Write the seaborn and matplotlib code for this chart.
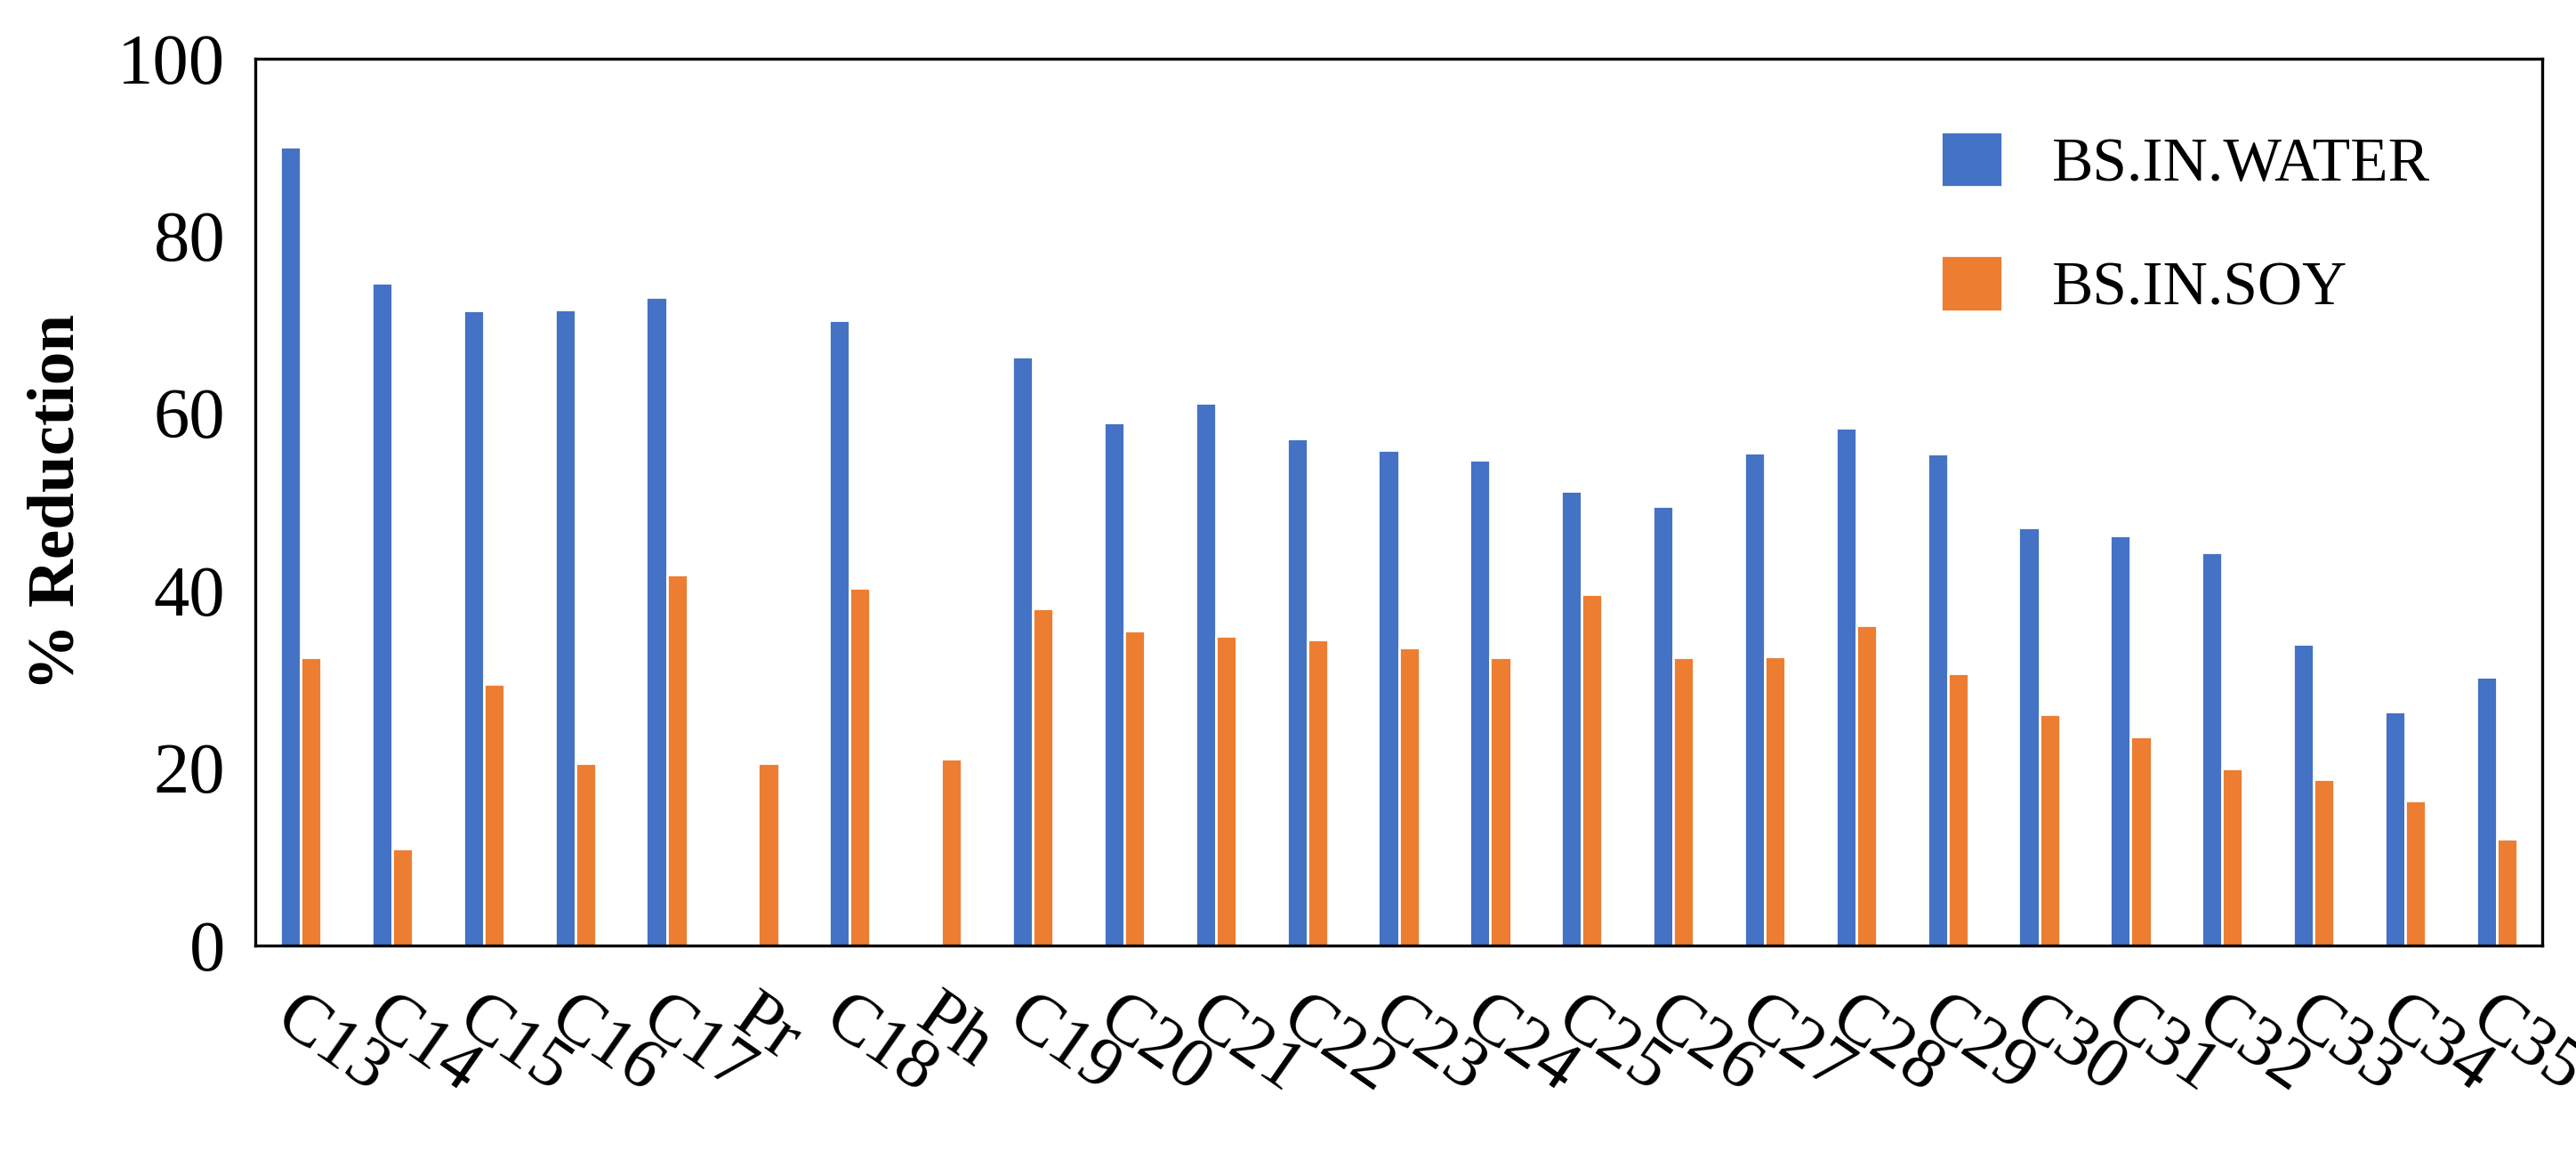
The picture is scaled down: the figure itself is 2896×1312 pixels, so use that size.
import pandas as pd
import matplotlib.pyplot as plt
import seaborn as sns

categories = ["C13", "C14", "C15", "C16", "C17", "Pr", "C18", "Ph", "C19", "C20",
              "C21", "C22", "C23", "C24", "C25", "C26", "C27", "C28", "C29", "C30",
              "C31", "C32", "C33", "C34", "C35"]
water = [90.0, 74.7, 71.6, 71.7, 73.1, 0, 70.5, 0, 66.4, 58.9,
         61.1, 57.1, 55.8, 54.7, 51.2, 49.5, 55.5, 58.3, 55.4, 47.1,
         46.2, 44.3, 34.0, 26.3, 30.3]
soy = [32.5, 10.9, 29.5, 20.5, 41.8, 20.5, 40.3, 21.0, 38.0, 35.5,
       34.9, 34.5, 33.6, 32.5, 39.6, 32.5, 32.6, 36.1, 30.7, 26.0,
       23.5, 19.9, 18.7, 16.3, 12.0]

df = pd.DataFrame({
    "cat": categories * 2,
    "val": water + soy,
    "series": ["BS.IN.WATER"] * len(categories) + ["BS.IN.SOY"] * len(categories),
})

sns.set_style("white")
plt.rcParams["font.family"] = ["Liberation Serif", "DejaVu Serif"]
plt.rcParams["text.color"] = "black"
plt.rcParams["xtick.color"] = "black"
plt.rcParams["ytick.color"] = "black"
plt.rcParams["axes.labelcolor"] = "black"

fig = plt.figure(figsize=(14.48, 6.56), dpi=200)
ax = fig.add_axes([0.099, 0.19, 0.888, 0.76])
sns.barplot(data=df, x="cat", y="val", hue="series", ax=ax,
            palette=["#4472C4", "#ED7D31"], width=0.45, saturation=1)

ax.set_ylim(0, 100)
ax.set_yticks(range(0, 101, 20))
ax.set_xlim(-0.5, len(categories) - 0.5)
ax.tick_params(axis="y", labelsize=29, length=0, pad=12)
ax.tick_params(axis="x", labelsize=29, length=0, pad=16)
for lbl in ax.get_xticklabels():
    lbl.set_rotation(-35)
    lbl.set_ha("left")
    lbl.set_rotation_mode("anchor")
ax.set_xlabel("")
ax.set_ylabel("% Reduction", fontsize=27, fontweight="bold", labelpad=12)
for s in ax.spines.values():
    s.set_color("black")
    s.set_linewidth(1.2)
ax.legend(frameon=False, fontsize=25, loc="upper right",
          bbox_to_anchor=(0.975, 0.98), handlelength=1.0, handleheight=1.0,
          labelspacing=1.0)

fig.savefig("out.png", dpi=200)
